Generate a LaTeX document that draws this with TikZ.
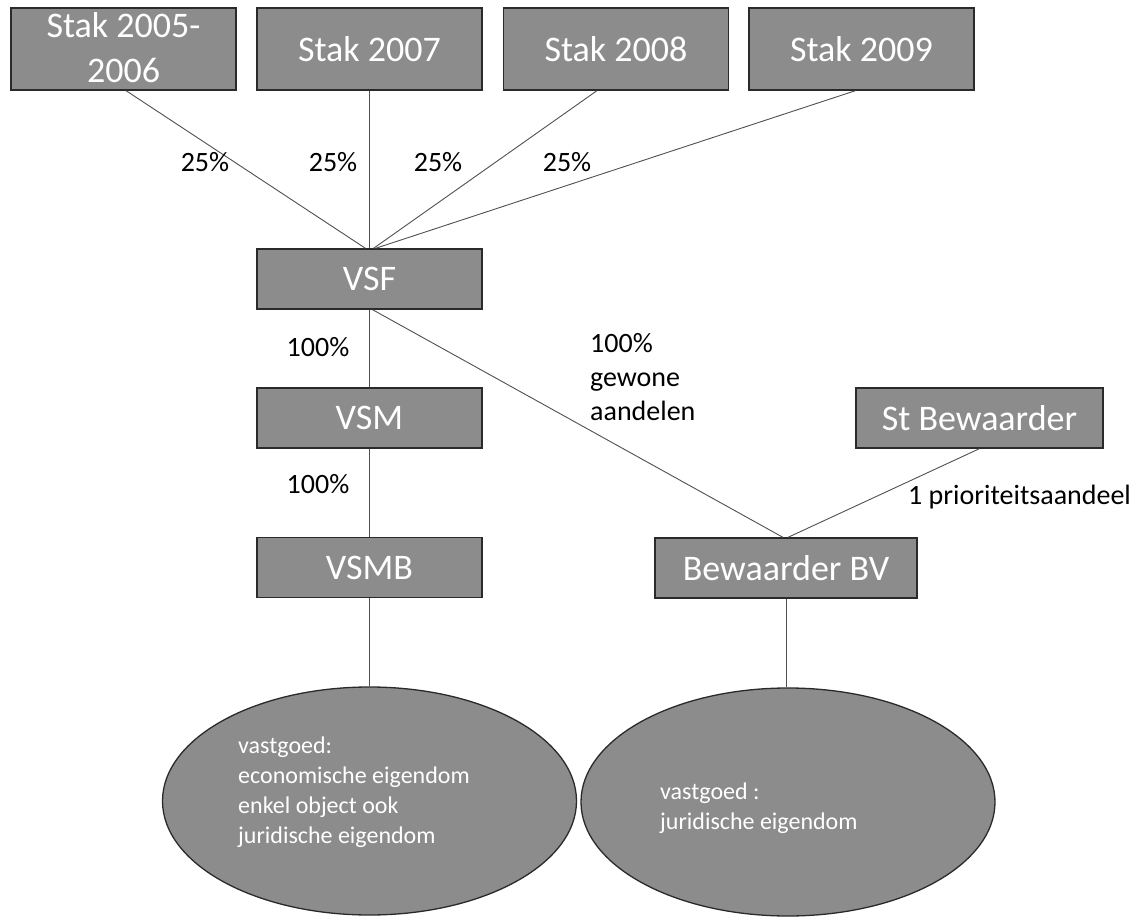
\documentclass[tikz,border=0pt]{standalone}
\usepackage{fontspec}
\setmainfont{Carlito}
\usetikzlibrary{shapes.geometric,calc}
\definecolor{boxfill}{HTML}{8C8C8C}
\definecolor{boxline}{HTML}{2A2A2A}
\definecolor{conn}{HTML}{505050}
\begin{document}
\begin{tikzpicture}[x=1pt,y=-1pt,
  boxcore/.style={rectangle,draw=boxline,line width=1.3pt,fill=boxfill,text=white,
    font=\fontsize{36}{45}\selectfont,minimum width=225pt,minimum height=60pt,inner sep=0pt},
  entity/.style={boxcore,align=center},
  stakbox/.style={entity,minimum height=82pt},
  blob/.style={ellipse,draw=boxline,line width=1.3pt,fill=boxfill,minimum width=414pt,minimum height=228pt,inner sep=0pt},
  blobtext/.style={text=white,font=\fontsize{24}{30}\selectfont,align=left,anchor=west,inner sep=0pt},
  pct/.style={font=\fontsize{28}{34}\selectfont,inner sep=0pt},
  link/.style={draw=conn,line width=0.9pt}]
\useasboundingbox (0,0) rectangle (1138,917);
% top boxes
\node[boxcore,minimum height=82pt,text height=27pt,text depth=49pt] (s1) at (123.5,49)
  {\begin{tabular}[t]{@{}c@{}}Stak 2005-\\2006\end{tabular}};
\node[stakbox] (s2) at (369.5,49) {Stak 2007};
\node[stakbox] (s3) at (616,49) {Stak 2008};
\node[stakbox] (s4) at (861.5,49) {Stak 2009};
% middle
\node[entity] (vsf) at (369.5,279) {VSF};
\node[entity] (vsm) at (369.5,418) {VSM};
\node[entity] (vsmb) at (369.5,567.5) {VSMB};
\node[entity,minimum width=262pt] (bbv) at (786,568) {Bewaarder BV};
\node[entity,minimum width=247pt] (stb) at (979.5,418) {St Bewaarder};
% ellipses
\node[blob] (e1) at (369.5,801) {};
\node[blob] (e2) at (788,802) {};
\node[blobtext] (t1) at (238,792) {vastgoed:\\economische eigendom\\enkel object ook\\juridische eigendom};
\node[blobtext] (t2) at (660,808) {vastgoed :\\juridische eigendom};
% connectors
\draw[link] ([xshift=2.5pt]s1.south) -- ([xshift=-4pt]vsf.north);
\draw[link] (s2.south) -- (vsf.north);
\draw[link] ([xshift=-19pt]s3.south) -- ([xshift=4pt]vsf.north);
\draw[link] ([xshift=-6pt]s4.south) -- ([xshift=6pt]vsf.north);
\draw[link] (vsf.south) -- (vsm.north);
\draw[link] (vsm.south) -- (vsmb.north);
\draw[link] ([xshift=3pt]vsf.south) -- ([xshift=-3pt]bbv.north);
\draw[link] (stb.south) -- ([xshift=2pt]bbv.north);
\draw[link] (vsmb.south) -- (e1.north);
\draw[link] (bbv.south) -- (bbv.south |- e2.north);
% labels
\node[pct] (p1) at (205,162) {25\%};
\node[pct] (p2) at (333,162) {25\%};
\node[pct] (p3) at (438,162) {25\%};
\node[pct] (p4) at (567,162) {25\%};
\node[pct] (p5) at (318,347) {100\%};
\node[pct] (p6) at (318,484) {100\%};
\node[pct,align=left,anchor=north west] (p7) at (590,333) {100\%\\gewone\\aandelen};
\node[pct,anchor=west] (p8) at (908,497) {1 prioriteitsaandeel};
\end{tikzpicture}
\end{document}
